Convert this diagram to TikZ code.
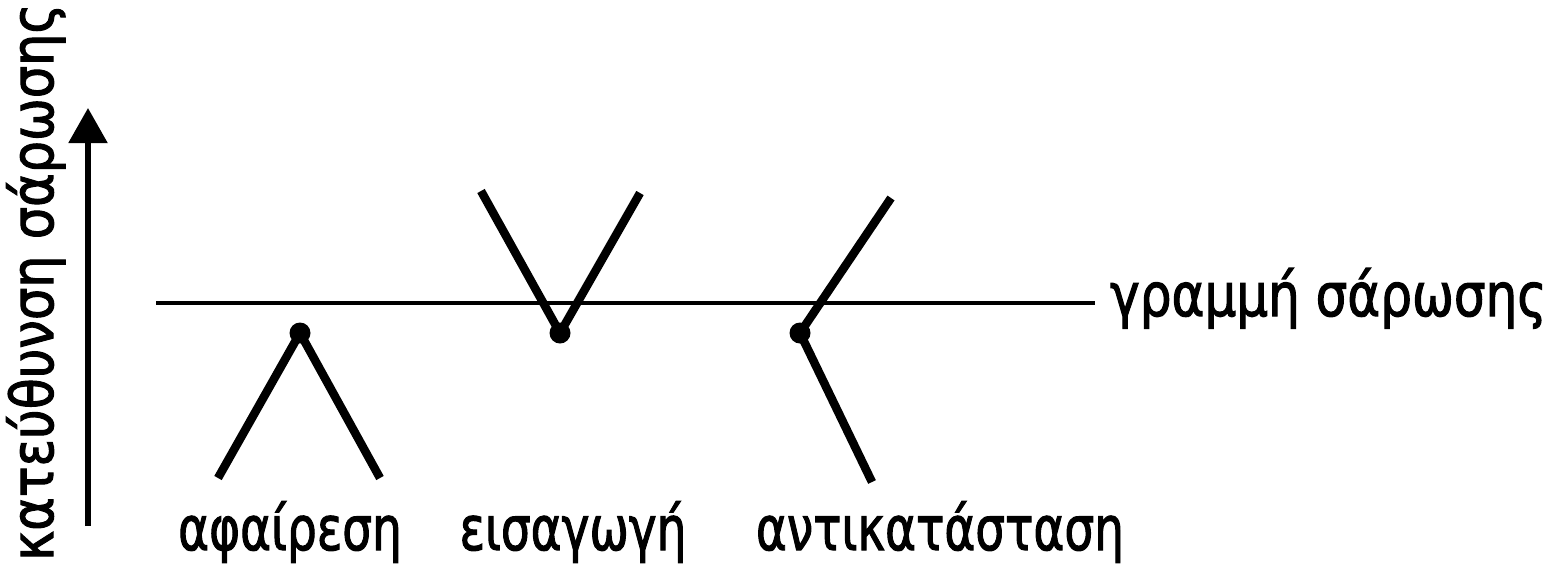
\documentclass[tikz,border=0pt]{standalone}
\usepackage{fontspec}
\setmainfont{DejaVu Sans}
\newfontfamily\lblfont{DejaVu Sans}[FakeBold=2]
\usetikzlibrary{arrows.meta}
\newcommand{\tallt}[2]{\scalebox{1}[#1]{#2}}

\begin{document}
\begin{tikzpicture}[x=1pt,y=-1pt,>={Triangle[length=35pt,width=38pt]},
  seg/.style={line width=8.5pt},
  lbl/.style={inner sep=0pt,font=\fontsize{50}{60}\lblfont},
  evlbl/.style={lbl,font=\fontsize{47}{56}\lblfont}]
\useasboundingbox (0,0) rectangle (1566,566);
% sweep direction
\coordinate (dirS) at (88,526);
\coordinate (dirE) at (88,108);
\draw[->,line width=5.5pt] (dirS)--(dirE);
\node[lbl,rotate=90,anchor=base west,font=\fontsize{51}{60}\lblfont] (dirlbl) at (53,561) {\tallt{1.15}{κατεύθυνση σάρωσης}};
% sweep line
\coordinate (swL) at (156,303);
\coordinate (swR) at (1095,303);
\draw[line width=4pt] (swL)--(swR);
\node[lbl,anchor=base west] (swlbl) at (1110,316) {\tallt{1.2}{γραμμή σάρωσης}};
% deletion
\coordinate (delV) at (300,333);
\coordinate (delA) at (218,478);
\coordinate (delB) at (380,478);
\draw[seg] (delA)--(delV)--(delB);
\fill (delV) circle(10.5);
% insertion
\coordinate (insV) at (560,333);
\coordinate (insA) at (481,191);
\coordinate (insB) at (640,193);
\draw[seg] (insA)--(insV)--(insB);
\fill (insV) circle(10.5);
% replacement
\coordinate (repV) at (800,333);
\coordinate (repA) at (891,198);
\coordinate (repB) at (872,482);
\draw[seg] (repA)--(repV)--(repB);
\fill (repV) circle(10.5);
\node[evlbl,anchor=base] (dellbl) at (290,550) {\tallt{1.3}{αφαίρεση}};
\node[evlbl,anchor=base] (inslbl) at (573,550) {\tallt{1.3}{εισαγωγή}};
\node[evlbl,anchor=base] (replbl) at (940,550) {\tallt{1.3}{αντικατάσταση}};
\end{tikzpicture}
\end{document}
